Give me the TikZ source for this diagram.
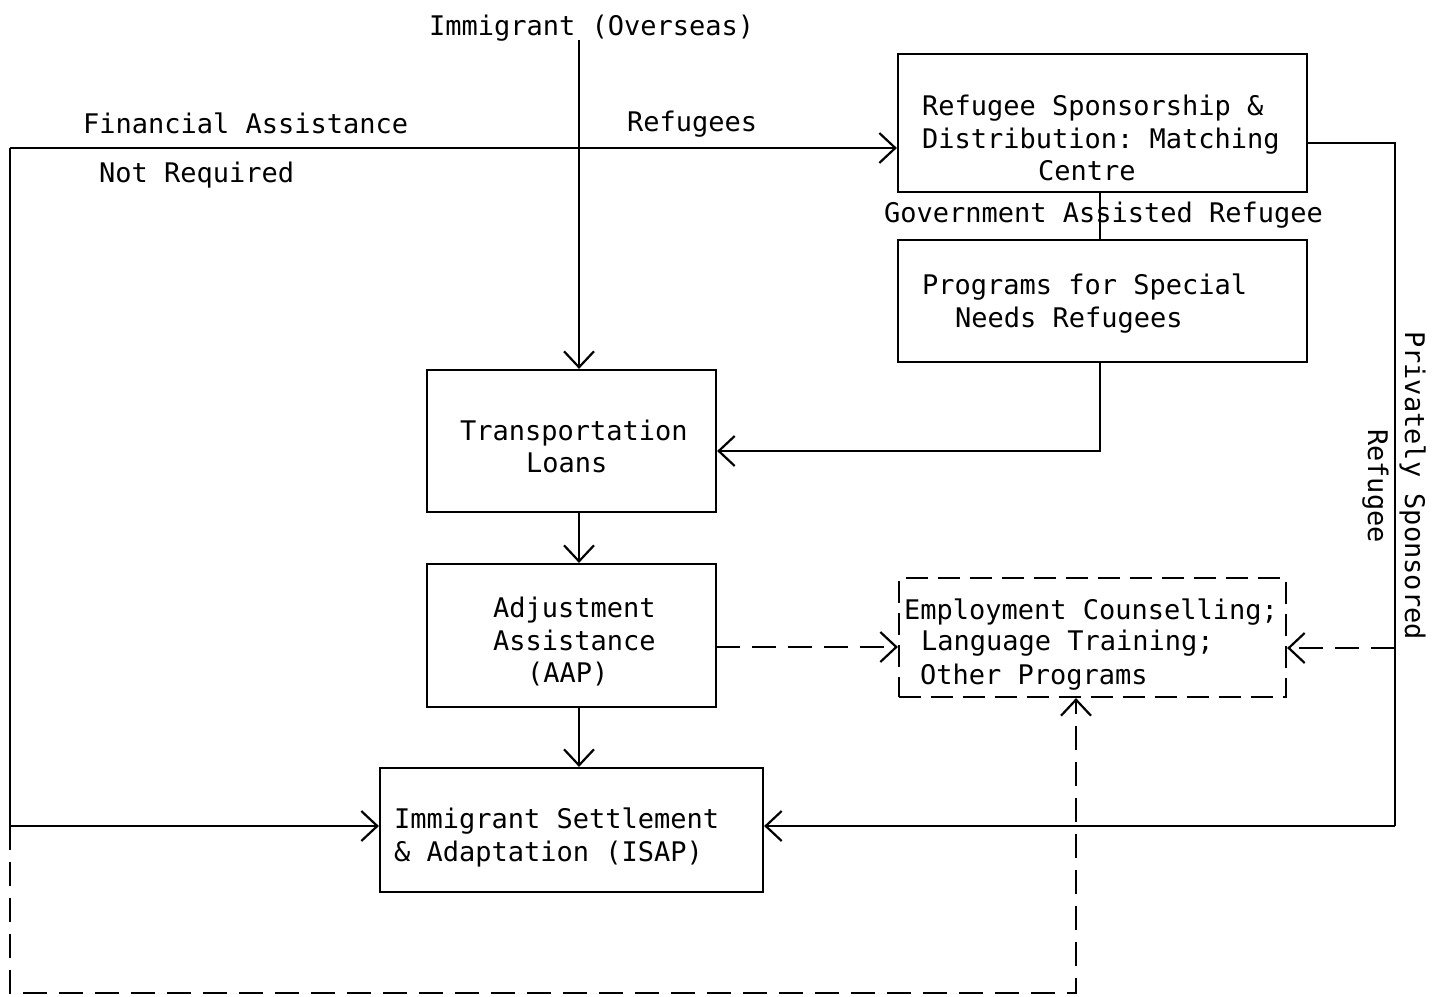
\documentclass[tikz,border=0pt]{standalone}
\usepackage{fontspec}
\setmonofont{DejaVu Sans Mono}
\usetikzlibrary{arrows.meta,fit}
\begin{document}
\begin{tikzpicture}[x=0.5pt,y=-0.5pt,
  line width=1.1pt,
  txt/.style={font=\ttfamily\fontsize{13.5}{16.5}\selectfont, inner sep=0pt, anchor=base west},
  box/.style={draw, inner sep=0pt},
  dbox/.style={draw, inner sep=0pt, dash pattern=on 11pt off 5pt},
  arr/.style={-{Straight Barb[length=8pt,width=15pt,line width=1.1pt]}},
  darr/.style={arr, dash pattern=on 12pt off 6pt}]
\useasboundingbox (0,0) rectangle (1440,996);

% boxes
\node[box, fit={(898,54) (1307,192)}] (refbox) {};
\node[box, fit={(898,240) (1307,362)}] (progbox) {};
\node[box, fit={(427,370) (716,512)}] (trans) {};
\node[box, fit={(427,564) (716,707)}] (adj) {};
\node[box, fit={(380,768) (763,892)}] (isap) {};
\node[dbox, fit={(899,578) (1286,697)}] (emp) {};

% texts
\node[txt] (immt) at (428,35) {Immigrant (Overseas)};
\node[txt] (fin1) at (82,133) {Financial Assistance};
\node[txt] (fin2) at (98,182) {Not Required};
\node[txt] (refl) at (626,131) {Refugees};
\node[txt] (ref1) at (921,115) {Refugee Sponsorship \&};
\node[txt] (ref2) at (921,148) {Distribution: Matching};
\node[txt] (ref3) at (1037,180) {Centre};
\node[txt] (gov) at (883,222) {Government Assisted Refugee};
\node[txt] (prog1) at (921,294) {Programs for Special};
\node[txt] (prog2) at (954,327) {Needs Refugees};
\node[txt] (tr1) at (459,440) {Transportation};
\node[txt] (tr2) at (525,472) {Loans};
\node[txt] (ad1) at (492,617) {Adjustment};
\node[txt] (ad2) at (492,650) {Assistance};
\node[txt] (ad3) at (526,682) {(AAP)};
\node[txt] (is1) at (393,828) {Immigrant Settlement};
\node[txt] (is2) at (393,861) {\& Adaptation (ISAP)};
\node[txt] (em1) at (903,619) {Employment Counselling;};
\node[txt] (em2) at (920,650) {Language Training;};
\node[txt] (em3) at (919,684) {Other Programs};
\node[txt, rotate=-90] (priv1) at (1405,330) {Privately Sponsored};
\node[txt, rotate=-90] (priv2) at (1368,428) {Refugee};

% coordinates
\coordinate (immtop) at (579,40);
\coordinate (lefttop) at (10,148);
\coordinate (leftmid) at (10,826);
\coordinate (leftbot) at (10,993);
\coordinate (botright) at (1076,993);
\coordinate (progturn) at (1100,451);
\coordinate (adjout) at (716,647);
\coordinate (rt) at (1395,143);
\coordinate (rb) at (1395,826);
\coordinate (rdash) at (1395,648);

% connectors
\draw[arr] (immtop) -- (immtop |- trans.north);
\draw[arr] (lefttop) -- (lefttop -| refbox.west);
\draw (lefttop) -- (leftmid);
\draw[arr] (leftmid) -- (leftmid -| isap.west);
\draw[darr] (leftmid) -- (leftbot) -- (botright) -- (botright |- emp.south);
\draw (refbox.south -| progturn) -- (progbox.north -| progturn);
\draw[arr] (progbox.south -| progturn) -- (progturn) -- (progturn -| trans.east);
\draw[arr] (trans.south -| immtop) -- (adj.north -| immtop);
\draw[arr] (adj.south -| immtop) -- (isap.north -| immtop);
\draw[darr] (adjout) -- (adjout -| emp.west);
\draw (refbox.east |- rt) -- (rt) -- (rb);
\draw[arr] (rb) -- (rb -| isap.east);
\draw[darr] (rdash) -- (rdash -| emp.east);
\end{tikzpicture}
\end{document}
